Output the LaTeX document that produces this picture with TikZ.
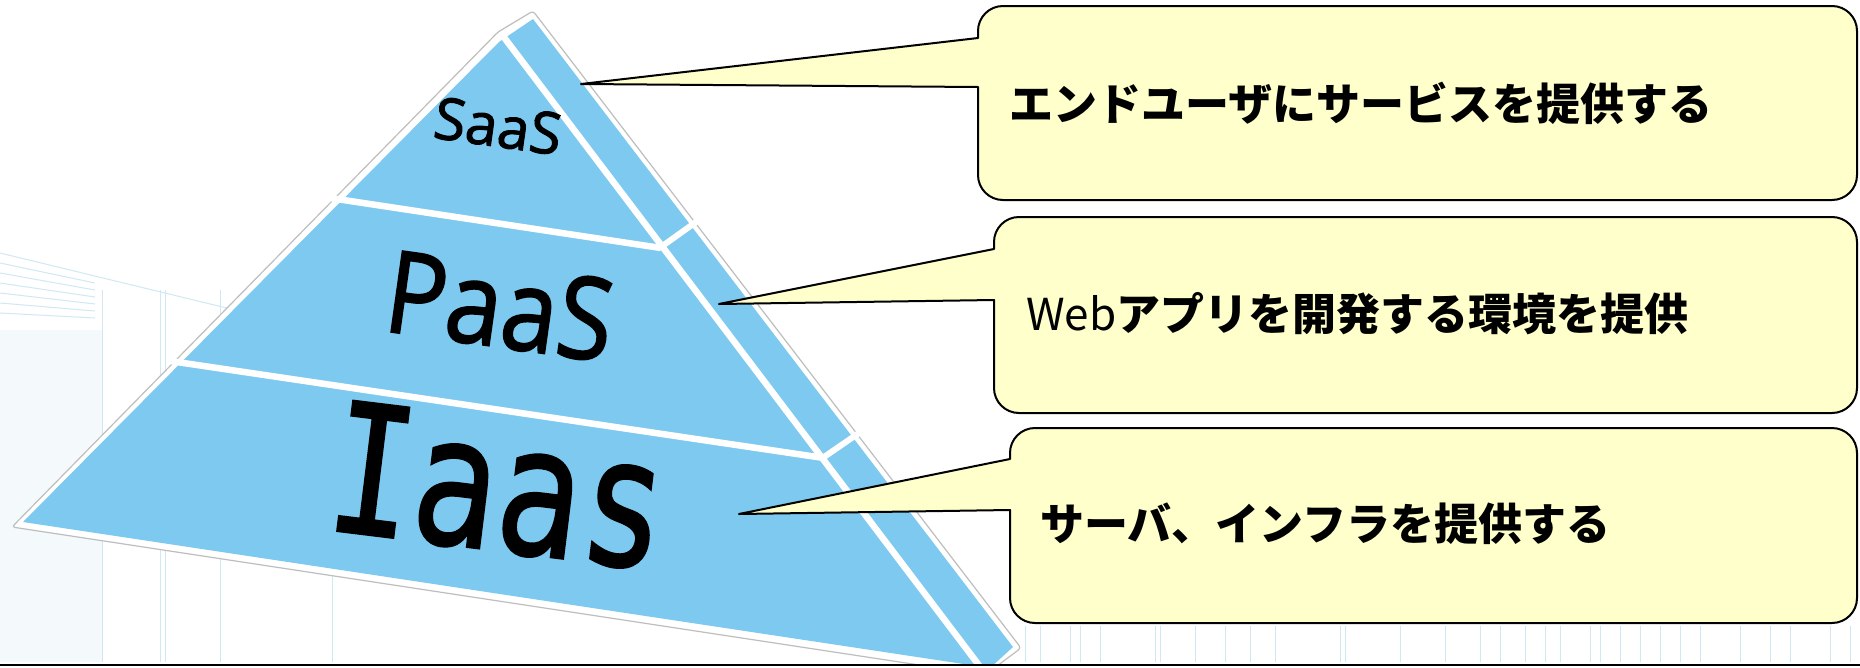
\documentclass[tikz,border=0pt]{standalone}
\usepackage{fontspec}
\usepackage{graphicx}
\newfontfamily\jpfont{Noto Sans CJK JP}
\newfontfamily\lblfont[FakeBold=1.6]{Open Sans}
\newfontfamily\lblmono[FakeBold=1.2]{DejaVu Sans Mono}
\definecolor{pyblue}{RGB}{125,201,240}
\definecolor{callfill}{RGB}{255,255,204}
\definecolor{bgtint}{RGB}{244,249,252}
\definecolor{bgline}{RGB}{208,232,243}
\definecolor{edgegray}{RGB}{190,190,190}
\tikzset{
  calloutbox/.style={fill=callfill, draw=black, line width=2pt, line join=round},
  divider/.style={white, line width=6.5pt},
  bgstroke/.style={bgline, line width=1pt},
  calltext/.style={anchor=west, inner sep=0pt, font=\jpfont\fontsize{44}{44}\selectfont},
}
% #1 left, #2 top, #3 right, #4 bottom, #5 pointer top, #6 pointer bottom, #7 tip name
\newcommand\mycallout[7]{%
  \filldraw[calloutbox] (#1,#5) -- (#1,#2+25)
    .. controls (#1,#2+11.2) and (#1+11.2,#2) .. (#1+25,#2)
    -- (#3-25,#2)
    .. controls (#3-11.2,#2) and (#3,#2+11.2) .. (#3,#2+25)
    -- (#3,#4-25)
    .. controls (#3,#4-11.2) and (#3-11.2,#4) .. (#3-25,#4)
    -- (#1+25,#4)
    .. controls (#1+11.2,#4) and (#1,#4-11.2) .. (#1,#4-25)
    -- (#1,#6) -- (#7) -- cycle;}
\begin{document}
\begin{tikzpicture}[x=1pt,y=-1pt]
\useasboundingbox (0,0) rectangle (1860,667);
\fill[white] (0,0) rectangle (1860,667);

% faint background
\fill[bgtint] (0,330) rectangle (102,662);
\draw[bgstroke] (0,253) -- (235,310);
\foreach \k in {0,...,5}{\draw[bgstroke] (0,263+\k*10) -- (95,283+\k*7);}
\foreach \xx in {102,160,165,220,332}{\draw[bgstroke] (\xx,290) -- (\xx,662);}
\foreach \xx in {1025,1040,1070,1080,1100,1155,1160,1195,1225,1250,1275,1340,1345,1400,1445,1480,1500,1525,1545,1560,1590,1600,1620,1640,1660,1680,1700,1740,1770,1790,1830,1850}{\draw[bgstroke, line width=0.8pt] (\xx,626) -- (\xx,662);}

% pyramid
\begin{scope}
\clip (0,0) rectangle (1860,663);
\filldraw[fill=white, draw=edgegray, line width=1.2pt, rounded corners=3pt]
  (12,527) -- (498,32) -- (533,11) -- (1021,648) -- (985,675) -- cycle;
\fill[pyblue] (23,522) -- (499,42) -- (533,19) -- (1013,647) -- (990,668) -- cycle;
\draw[divider] (503,36) -- (981,668);
\draw[divider] (330,198) -- (661,248);
\draw[divider] (170,361) -- (824,458);
\draw[divider, line width=6pt] (661,247) -- (696,222);
\draw[divider, line width=6pt] (824,457) -- (859,433);
\end{scope}

\node[rotate=-8, inner sep=0pt] (saas) at (498,126) {\lblfont\fontsize{58}{58}\selectfont SaaS};
\node[rotate=-8, inner sep=0pt] (paas) at (500,306) {\scalebox{0.9}[1.02]{\lblfont\fontsize{112}{112}\selectfont PaaS}};
\node[rotate=-7, inner sep=0pt] (iaas) at (499,486) {\scalebox{0.78}[1]{\lblmono\fontsize{180}{180}\selectfont Iaas}};

% callouts
\coordinate (tip1) at (581,84);
\coordinate (tip2) at (719,304);
\coordinate (tip3) at (739,514);
\mycallout{978}{6}{1857}{200}{38}{87}{tip1}
\mycallout{994}{217}{1857}{413}{249}{300}{tip2}
\mycallout{1010}{428}{1857}{623}{459}{510}{tip3}
\node[calltext] (t1) at (1009,103) {\bfseries エンドユーザにサービスを提供する};
\node[calltext] (t2) at (1026,314) {Web{\bfseries アプリを開発する環境を提供}};
\node[calltext] (t3) at (1040,524) {\bfseries サーバ、インフラを提供する};

% bottom rule
\draw[black, line width=2.5pt] (0,665) -- (1860,665);
\end{tikzpicture}
\end{document}
